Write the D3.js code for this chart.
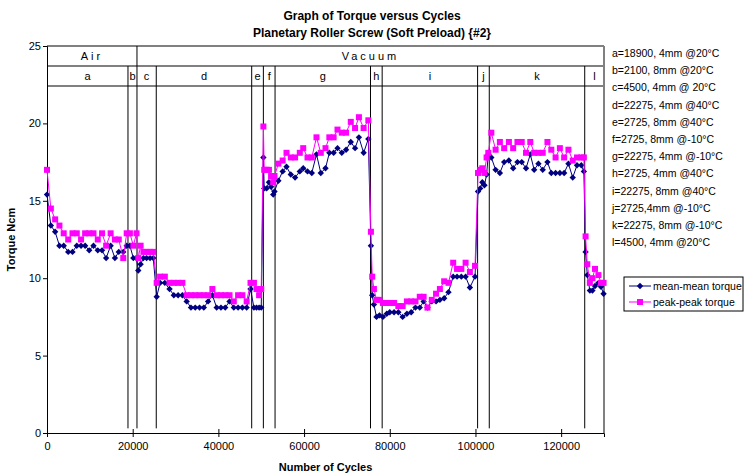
<!DOCTYPE html>
<html><head><meta charset="utf-8">
<script src="https://cdn.jsdelivr.net/npm/d3@7"></script>
<style>body{margin:0;background:#fff;} text{font-family:"Liberation Sans", Arial, sans-serif;fill:#000;}</style>
</head><body><svg id="c" width="752" height="476"></svg>
<script>
const titleLines = ["Graph of Torque versus Cycles", "Planetary Roller Screw (Soft Preload) {#2}"];
const xTitle = "Number of Cycles";
const yTitle = "Torque Ncm";
const xTicks = [0, 20000, 40000, 60000, 80000, 100000, 120000];
const yTicks = [0, 5, 10, 15, 20, 25];
const seriesNames = ["mean-mean torque", "peak-peak torque"];

const cycles = [
  0,900,1900,2900,3900,4950,5950,6950,7950,8900,9850,10850,11850,12850,13800,14850,15850,16750,17800,18600,
  19350,20150,20900,
  21300,21850,22500,23250,24050,24800,
  25600,26400,27500,28600,29600,30600,31600,32600,33600,34600,35600,36600,37600,38600,39600,40600,41600,42600,43600,44600,45600,46600,47500,
  48300,48900,49500,50000,
  50500,50700,51250,51800,52300,52800,53100,
  54000,55000,55900,56900,57900,59000,59800,60800,61800,62900,63900,65000,65900,66900,67800,68800,69800,70900,71900,72800,73900,75000,
  75600,75900,76300,76900,77600,
  78400,79300,80000,81000,82000,83000,84000,85000,86000,87000,87900,88800,89800,90800,91700,92700,93700,94800,95700,96700,97700,98700,99900,
  100600,101100,101600,102100,102600,103000,
  103700,104700,105700,106700,107800,108800,109800,110800,111800,112800,113700,114700,115700,116800,117700,118700,119700,120700,121700,122700,123700,124700,125300,
  125700,126100,126700,127300,127900,128700,129300,129900
];
const meanTorque = [
  15.4,13.4,13.0,12.1,12.1,11.7,11.7,12.1,12.1,12.1,11.8,12.1,11.8,11.8,11.3,12.1,11.3,11.7,11.7,12.1,
  12.1,11.3,11.3,
  10.5,10.9,11.3,11.3,11.3,11.3,
  8.8,9.7,9.7,9.3,8.9,8.9,8.9,8.5,8.1,8.1,8.1,8.1,8.5,8.9,8.1,8.1,8.1,8.5,8.1,8.1,8.1,8.1,9.3,
  8.1,8.1,8.1,8.1,
  17.8,15.8,15.8,16.2,15.9,15.4,15.6,
  16.3,16.9,17.2,16.7,16.5,16.9,17.1,16.9,16.8,18.0,16.8,17.1,18.1,18.1,18.4,18.1,18.3,18.8,18.4,19.1,18.1,19.0,
  12.1,8.9,8.3,7.5,7.6,
  7.5,7.7,7.8,7.8,7.8,7.5,7.7,7.8,8.1,8.1,8.5,8.1,8.5,8.5,8.6,8.7,9.1,10.1,10.1,10.1,10.1,9.4,10.1,
  15.6,15.8,16.2,16.0,16.7,18.0,
  17.8,17.0,16.8,17.5,17.6,17.1,17.5,17.5,17.1,18.0,17.0,17.4,17.0,17.5,16.8,16.8,16.8,16.8,17.4,16.5,17.3,17.3,16.9,
  11.7,10.2,9.2,9.2,9.5,9.7,9.45,9.0
];
const peakTorque = [
  17.0,14.5,13.8,13.4,12.9,12.5,12.9,12.9,12.5,12.9,12.9,12.9,12.5,12.9,12.1,12.9,12.5,12.5,11.3,12.9,
  12.9,12.1,12.9,
  11.3,12.1,11.7,11.7,11.7,11.7,
  9.7,10.1,10.1,9.7,9.7,9.7,9.7,8.9,8.9,8.9,8.9,8.9,8.9,9.3,8.9,8.9,8.9,8.9,8.5,8.9,8.9,8.5,9.7,
  9.7,9.3,8.9,9.3,
  19.8,17.0,17.0,17.0,16.6,16.2,16.6,
  17.4,17.6,18.1,17.8,17.8,18.1,18.4,17.8,17.8,19.1,18.1,18.4,19.1,19.1,19.6,19.4,19.4,20.1,19.7,20.4,19.7,20.2,
  13.0,10.1,9.3,8.6,8.6,
  8.4,8.4,8.4,8.4,8.2,8.2,8.5,8.5,8.5,8.8,8.8,8.1,8.6,9.0,9.3,9.8,9.7,11.0,10.6,10.6,11.0,10.4,10.8,
  16.8,17.0,17.1,16.8,17.8,18.1,
  19.4,18.3,18.8,18.4,18.8,18.4,18.8,18.8,18.1,18.8,18.1,18.1,18.1,18.8,18.3,17.8,18.4,17.8,18.3,17.6,17.8,17.8,17.8,
  12.7,10.9,9.7,10.0,10.6,10.2,9.7,9.7
];

const segLetters = ["a","b","c","d","e","f","g","h","i","j","k","l"];
const segBounds = [0, 18900, 21000, 25500, 47775, 50500, 53225, 75500, 78225, 100500, 103225, 125500, 130000];
const envNames = ["Air", "Vacuum"];
const envBounds = [0, 21000, 130000];
const segNotes = [
  "a=18900, 4mm @20°C", "b=2100, 8mm @20°C", "c=4500, 4mm @ 20°C", "d=22275, 4mm @40°C",
  "e=2725, 8mm @40°C", "f=2725, 8mm @-10°C", "g=22275, 4mm @-10°C", "h=2725, 4mm @40°C",
  "i=22275, 8mm @40°C", "j=2725,4mm @-10°C", "k=22275, 8mm @-10°C", "l=4500, 4mm @20°C"
];

const svg = d3.select('#c');
const x = d3.scaleLinear().domain([0, 130000]).range([47, 604]);
const y = d3.scaleLinear().domain([0, 25]).range([433, 46]);
const NAVY = "#000080", MAG = "#FF00FF", GRAY = "#808080";

// Titles
svg.selectAll('text.title').data(titleLines).enter().append('text')
  .attr('x', 372).attr('y', (d, i) => 20 + i * 17).attr('text-anchor', 'middle')
  .attr('font-weight', 'bold').attr('font-size', 12).text(d => d);

// Plot frame (gray top/right) and header rows
const row1 = 66, row2 = 86;
[y(25), row1, row2].forEach(yy => svg.append('line').attr('x1', x(0)).attr('x2', x(130000))
  .attr('y1', yy).attr('y2', yy).attr('stroke', GRAY).attr('stroke-width', 2));
svg.append('line').attr('x1', x(130000)).attr('x2', x(130000)).attr('y1', y(25)).attr('y2', y(0))
  .attr('stroke', GRAY).attr('stroke-width', 2);

// Dividers
segBounds.slice(1, -1).forEach(b => {
  const isEnv = envBounds.includes(b);
  svg.append('line').attr('x1', x(b)).attr('x2', x(b))
    .attr('y1', isEnv ? y(25) : row1).attr('y2', y(0.3))
    .attr('stroke', '#000').attr('stroke-width', 1);
});

// Header texts
envNames.forEach((n, i) => {
  svg.append('text').attr('x', x((envBounds[i] + envBounds[i + 1]) / 2)).attr('y', 60)
    .attr('text-anchor', 'middle').attr('font-size', 11).attr('letter-spacing', 3).text(n);
});
segLetters.forEach((n, i) => {
  svg.append('text').attr('x', x((segBounds[i] + segBounds[i + 1]) / 2)).attr('y', 80)
    .attr('text-anchor', 'middle').attr('font-size', 11).text(n);
});

// Notes
svg.selectAll('text.note').data(segNotes).enter().append('text')
  .attr('x', 612).attr('y', (d, i) => 57 + i * 17.2).attr('font-size', 10.5).text(d => d);

// Axes
const fmt = d3.format("d");
const gx = svg.append('g').attr('transform', `translate(0,${y(0)})`)
  .call(d3.axisBottom(x).tickValues(xTicks).tickFormat(fmt).tickSizeOuter(0).tickSize(4));
gx.selectAll('.tick line').attr('y1', -4).attr('y2', 4);
gx.selectAll('text').attr('font-size', 11).attr('font-family', '"Liberation Sans", Arial, sans-serif').attr('dy', '0.9em').attr('y', 7);
const gy = svg.append('g').attr('transform', `translate(${x(0)},0)`)
  .call(d3.axisLeft(y).tickValues(yTicks).tickSizeOuter(0).tickSize(4));
gy.selectAll('.tick line').attr('x1', -4).attr('x2', 0);
gy.selectAll('text').attr('font-size', 11).attr('font-family', '"Liberation Sans", Arial, sans-serif').attr('x', -6);
[gx, gy].forEach(g => { g.selectAll('path,line').attr('stroke', '#000'); g.selectAll('text').attr('fill', '#000'); });

svg.append('text').attr('x', (x(0) + x(130000)) / 2).attr('y', 471).attr('text-anchor', 'middle')
  .attr('font-weight', 'bold').attr('font-size', 11).text(xTitle);
svg.append('text').attr('transform', `translate(15,${(y(0) + y(25)) / 2}) rotate(-90)`)
  .attr('text-anchor', 'middle').attr('font-weight', 'bold').attr('font-size', 11).text(yTitle);

// Series
const data = cycles.map((c, i) => ({ c, m: meanTorque[i], p: peakTorque[i] }));
const diamond = "M0,-3.2L3.2,0L0,3.2L-3.2,0Z";
function drawSeries(key, color, marker) {
  svg.append('path').datum(data).attr('fill', 'none').attr('stroke', color).attr('stroke-width', 1)
    .attr('d', d3.line().x(d => x(d.c)).y(d => y(d[key])));
  const g = svg.append('g');
  if (marker === 'diamond') {
    g.selectAll('path').data(data).enter().append('path').attr('d', diamond)
      .attr('transform', d => `translate(${x(d.c)},${y(d[key])})`).attr('fill', color);
  } else {
    g.selectAll('rect').data(data).enter().append('rect')
      .attr('x', d => x(d.c) - 3).attr('y', d => y(d[key]) - 3).attr('width', 6).attr('height', 6).attr('fill', color);
  }
}
drawSeries('m', NAVY, 'diamond');
drawSeries('p', MAG, 'square');

// Legend
const lg = svg.append('g').attr('transform', 'translate(624,277)');
lg.append('rect').attr('width', 119).attr('height', 34).attr('fill', '#fff').attr('stroke', '#000');
seriesNames.forEach((n, i) => {
  const yy = 9 + i * 16;
  const col = i === 0 ? NAVY : MAG;
  lg.append('line').attr('x1', 5).attr('x2', 27).attr('y1', yy).attr('y2', yy).attr('stroke', col);
  if (i === 0) lg.append('path').attr('d', diamond).attr('transform', `translate(16,${yy})`).attr('fill', col);
  else lg.append('rect').attr('x', 13).attr('y', yy - 3).attr('width', 6).attr('height', 6).attr('fill', col);
  lg.append('text').attr('x', 29).attr('y', yy + 4).attr('font-size', 10.5).text(n);
});
</script></body></html>
